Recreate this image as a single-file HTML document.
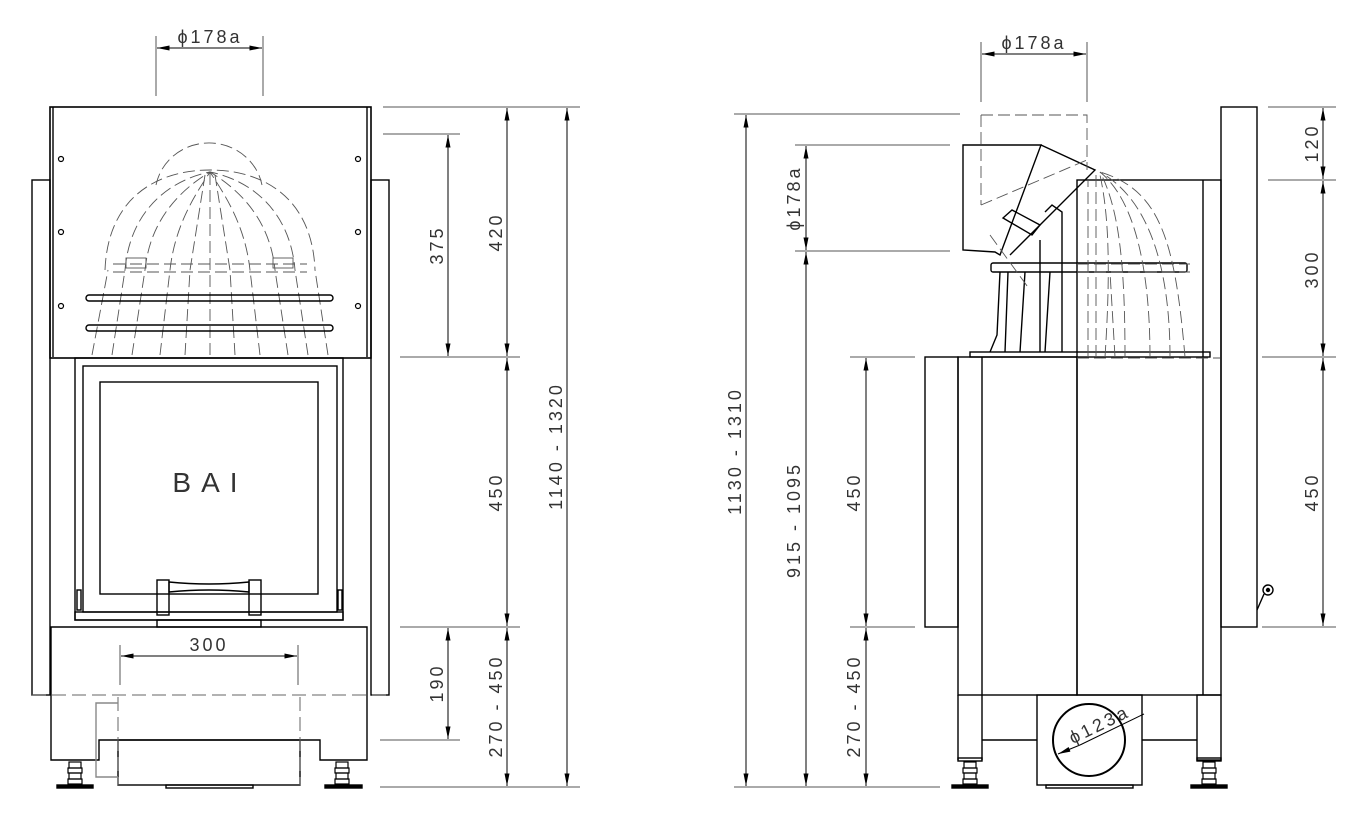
<!DOCTYPE html>
<html><head><meta charset="utf-8"><style>
html,body{margin:0;padding:0;background:#fff;}
svg{display:block}
text{font-family:"Liberation Sans",sans-serif;font-size:18px;fill:#333;letter-spacing:3px;}
</style></head><body>
<svg width="1368" height="821" viewBox="0 0 1368 821" xmlns="http://www.w3.org/2000/svg">
<defs>
<marker id="a" viewBox="0 0 10 4" refX="10" refY="2" markerWidth="14" markerHeight="5" markerUnits="userSpaceOnUse" orient="auto-start-reverse"><path d="M0,0L10,2L0,4z" fill="#000"/></marker>
</defs>
<g fill="none" stroke="#000" stroke-width="1.4">
<!-- LEFT VIEW -->
<rect x="32" y="180" width="18" height="515"/>
<rect x="371" y="180" width="18" height="515"/>
<rect x="50" y="107" width="321" height="251" stroke-width="1.6"/>
<line x1="53" y1="107" x2="53" y2="357"/><line x1="367" y1="107" x2="367" y2="357"/>
<g stroke-width="1.2">
<circle cx="61" cy="159" r="2.5"/><circle cx="61" cy="232" r="2.5"/><circle cx="61" cy="306" r="2.5"/>
<circle cx="358" cy="159" r="2.5"/><circle cx="358" cy="232" r="2.5"/><circle cx="358" cy="306" r="2.5"/>
</g>
<g stroke="#555" stroke-width="0.9" stroke-dasharray="12 5">
<path d="M156,185 A54,52 0 0 1 262,185"/>
<path d="M105,270 C108,195 160,170 210,170 C260,170 312,195 315,270"/>
<path d="M125,270 C130,210 170,180 210,172 C250,180 290,210 295,270"/>
<path d="M145,270 C150,220 180,190 210,172 C240,190 270,220 275,270"/>
<path d="M170,270 C175,225 195,195 210,172 C225,195 245,225 250,270"/>
<path d="M190,270 L205,175 M230,270 L215,175 M210,270 L210,172"/>
<path d="M92,355 L108,270 M112,355 L125,270 M132,355 L145,270 M160,355 L170,270 M185,355 L190,270 M210,355 L210,270 M235,355 L230,270 M260,355 L250,270 M288,355 L275,270 M308,355 L295,270 M328,355 L315,270"/>
<path d="M100,358 L320,358"/>
<path d="M113,264 L307,264 M113,272 L307,272"/>
</g>
<rect x="126" y="258" width="20" height="10" stroke="#555" stroke-width="0.9"/>
<rect x="273" y="258" width="20" height="10" stroke="#555" stroke-width="0.9"/>
<rect x="86" y="295" width="247" height="6" rx="3" stroke-width="1.4"/>
<rect x="86" y="325" width="247" height="6" rx="3" stroke-width="1.4"/>
<rect x="75" y="358" width="268" height="262"/>
<rect x="83" y="366" width="254" height="246"/>
<rect x="100" y="382" width="218" height="212"/>
<rect x="75" y="612" width="268" height="8"/>
<rect x="77" y="590" width="4" height="20"/><rect x="338" y="590" width="4" height="20"/>
<rect x="157" y="580" width="12" height="35"/><rect x="249" y="580" width="12" height="35"/>
<path d="M169,582 Q209,586 249,582 L249,592 Q209,588 169,592z"/>
<rect x="157" y="620" width="104" height="7"/>
<path d="M51,627 L51,760 L99,760 L99,740 L320,740 L320,760 L367,760 L367,627z"/>
<rect x="118" y="740" width="182" height="45"/>
<rect x="166" y="785" width="87" height="3"/>
<g stroke="#666" stroke-width="1" stroke-dasharray="14 6"><line x1="32" y1="695" x2="389" y2="695"/><line x1="118" y1="697" x2="118" y2="785"/><line x1="300" y1="697" x2="300" y2="785"/></g>
<path d="M118,703 L96,703 L96,777 L118,777" stroke="#888"/>
<g stroke-width="1.2">
<rect x="69" y="762" width="12" height="6"/><rect x="68" y="768" width="14" height="5"/><rect x="69" y="773" width="12" height="6"/><rect x="68" y="779" width="14" height="5"/>
<rect x="336" y="762" width="12" height="6"/><rect x="335" y="768" width="14" height="5"/><rect x="336" y="773" width="12" height="6"/><rect x="335" y="779" width="14" height="5"/>
</g>
<rect x="57" y="785" width="36" height="3" fill="#000"/><rect x="325" y="785" width="37" height="3" fill="#000"/>
</g>
<text x="210" y="492" text-anchor="middle" style="font-size:28px;letter-spacing:10px">BAI</text>
<!-- left dims -->
<g stroke="#555" stroke-width="1" fill="none">
<line x1="156" y1="36" x2="156" y2="96"/><line x1="263" y1="36" x2="263" y2="96"/>
<line x1="383" y1="107" x2="580" y2="107"/><line x1="383" y1="134" x2="460" y2="134"/>
<line x1="400" y1="357" x2="520" y2="357"/><line x1="400" y1="627" x2="520" y2="627"/>
<line x1="380" y1="740" x2="460" y2="740"/><line x1="380" y1="787" x2="580" y2="787"/>
<line x1="120" y1="645" x2="120" y2="685"/><line x1="298" y1="645" x2="298" y2="685"/>
</g>
<g stroke="#000" stroke-width="1" marker-start="url(#a)" marker-end="url(#a)">
<line x1="157" y1="48" x2="262" y2="48"/>
<line x1="121" y1="656" x2="297" y2="656"/>
<line x1="448" y1="135" x2="448" y2="356"/>
<line x1="448" y1="628" x2="448" y2="739"/>
<line x1="507" y1="108" x2="507" y2="356"/>
<line x1="507" y1="358" x2="507" y2="626"/>
<line x1="507" y1="628" x2="507" y2="786"/>
<line x1="567" y1="108" x2="567" y2="786"/>
</g>
<text x="210" y="43" text-anchor="middle">ϕ178a</text>
<text x="209" y="651" text-anchor="middle">300</text>
<text transform="translate(443,245) rotate(-90)" text-anchor="middle">375</text>
<text transform="translate(502,232) rotate(-90)" text-anchor="middle">420</text>
<text transform="translate(502,492) rotate(-90)" text-anchor="middle">450</text>
<text transform="translate(443,683) rotate(-90)" text-anchor="middle">190</text>
<text transform="translate(502,706) rotate(-90)" text-anchor="middle">270 - 450</text>
<text transform="translate(562,446) rotate(-90)" text-anchor="middle">1140 - 1320</text>

<!-- RIGHT VIEW -->
<g fill="none" stroke="#000" stroke-width="1.4">
<rect x="1221" y="107" width="36" height="520"/>
<rect x="1077" y="180" width="144" height="515"/>
<line x1="1203" y1="180" x2="1203" y2="695"/>
<rect x="925" y="357" width="33" height="270"/>
<rect x="958" y="357" width="119" height="338"/>
<line x1="982" y1="357" x2="982" y2="760"/>
<line x1="958" y1="695" x2="958" y2="760"/><rect x="958" y="758" width="24" height="3"/>
<rect x="1197" y="695" width="24" height="65"/><rect x="1197" y="758" width="24" height="3"/>
<rect x="1037" y="695" width="105" height="90"/>
<rect x="1046" y="785" width="87" height="3"/>
<line x1="982" y1="740" x2="1037" y2="740"/><line x1="1142" y1="740" x2="1197" y2="740"/>
<circle cx="1089" cy="740" r="36" stroke-width="2"/>
<rect x="970" y="352" width="240" height="5"/>
<rect x="991" y="263" width="196" height="9" rx="2"/>
<path d="M963,145 L1041,145 L1000,255 L995,252 L963,250 Z"/>
<path d="M1041,145 L1095,170 L1010,255"/>
<path d="M1003,218 L1012,210 L1040,225 L1032,235 Z M1045,212 L1052,205 L1062,212 L1062,352 M1040,240 L1040,352"/>
<path d="M1000,272 L997,335 L990,352 M1008,272 L1005,352 M1025,272 L1020,352 M1050,272 L1045,352"/>
<g stroke-width="1.2">
<rect x="964" y="762" width="12" height="6"/><rect x="963" y="768" width="14" height="5"/><rect x="964" y="773" width="12" height="6"/><rect x="963" y="779" width="14" height="5"/>
<rect x="1203" y="762" width="12" height="6"/><rect x="1202" y="768" width="14" height="5"/><rect x="1203" y="773" width="12" height="6"/><rect x="1202" y="779" width="14" height="5"/>
</g>
<rect x="952" y="785" width="36" height="3" fill="#000"/><rect x="1191" y="785" width="36" height="3" fill="#000"/>
<circle cx="1268" cy="590" r="5"/><circle cx="1268" cy="590" r="1.5" fill="#000"/>
<path d="M1264,594 L1257,610"/>
</g>
<g stroke="#555" stroke-width="0.9" fill="none" stroke-dasharray="12 5">
<path d="M981,115 L1087,115 L1087,170 M981,115 L981,205"/>
<path d="M981,205 L1087,160 M990,235 L1030,290"/>
<path d="M1088,357 L1088,180 M1096,357 L1096,175 M1105,357 C1110,280 1110,220 1100,175 M1125,357 C1125,270 1120,210 1100,172 M1150,357 C1150,270 1135,200 1100,172 M1170,357 C1170,270 1150,200 1100,172 M1185,357 C1175,240 1160,190 1100,172 M1115,357 L1110,272"/>
<path d="M1077,264 L1190,264 M1077,272 L1190,272 M1077,358 L1220,358"/>
</g>
<!-- right dims -->
<g stroke="#555" stroke-width="1" fill="none">
<line x1="981" y1="42" x2="981" y2="102"/><line x1="1087" y1="42" x2="1087" y2="102"/>
<line x1="734" y1="114" x2="960" y2="114"/>
<line x1="795" y1="145" x2="950" y2="145"/><line x1="795" y1="251" x2="950" y2="251"/>
<line x1="850" y1="357" x2="915" y2="357"/><line x1="850" y1="627" x2="915" y2="627"/>
<line x1="734" y1="787" x2="940" y2="787"/>
<line x1="1268" y1="107" x2="1336" y2="107"/><line x1="1268" y1="180" x2="1336" y2="180"/>
<line x1="1262" y1="357" x2="1336" y2="357"/><line x1="1262" y1="627" x2="1336" y2="627"/>
</g>
<g stroke="#000" stroke-width="1" marker-start="url(#a)" marker-end="url(#a)">
<line x1="982" y1="54" x2="1086" y2="54"/>
<line x1="746" y1="115" x2="746" y2="786"/>
<line x1="806" y1="146" x2="806" y2="250"/>
<line x1="806" y1="252" x2="806" y2="786"/>
<line x1="866" y1="358" x2="866" y2="626"/>
<line x1="866" y1="628" x2="866" y2="786"/>
<line x1="1323" y1="108" x2="1323" y2="179"/>
<line x1="1323" y1="181" x2="1323" y2="356"/>
<line x1="1323" y1="358" x2="1323" y2="626"/>
<line x1="1080" y1="745" x2="1058" y2="754" marker-start="none"/>
<line x1="1080" y1="745" x2="1144" y2="714" marker-start="none" marker-end="none"/>
</g>
<text x="1034" y="49" text-anchor="middle">ϕ178a</text>
<text transform="translate(741,451) rotate(-90)" text-anchor="middle">1130 - 1310</text>
<text transform="translate(800,198) rotate(-90)" text-anchor="middle">ϕ178a</text>
<text transform="translate(800,520) rotate(-90)" text-anchor="middle">915 - 1095</text>
<text transform="translate(860,492) rotate(-90)" text-anchor="middle">450</text>
<text transform="translate(860,706) rotate(-90)" text-anchor="middle">270 - 450</text>
<text transform="translate(1318,143) rotate(-90)" text-anchor="middle">120</text>
<text transform="translate(1318,269) rotate(-90)" text-anchor="middle">300</text>
<text transform="translate(1318,492) rotate(-90)" text-anchor="middle">450</text>
<text transform="translate(1102,730) rotate(-26)" text-anchor="middle">ϕ123a</text>
</svg>
</body></html>
